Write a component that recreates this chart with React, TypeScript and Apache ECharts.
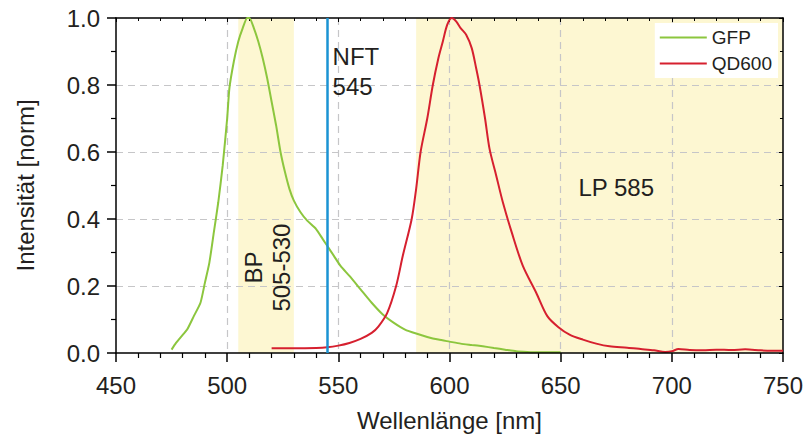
import React, { useEffect, useRef } from "react";
import * as echarts from "echarts";

const gfpNm = [475, 477, 480, 482, 485, 488, 490, 492, 494, 496, 498, 500, 501, 503, 505, 507, 509, 510, 512, 514, 516, 518, 520, 522, 524, 526, 528, 530, 533, 536, 540, 543, 545, 548, 551, 555, 560, 565, 570, 575, 580, 585, 590, 595, 600, 605, 610, 615, 620, 625, 630, 635, 640, 650];
const gfpIntensity = [0.01, 0.03, 0.054, 0.07, 0.11, 0.15, 0.21, 0.27, 0.36, 0.45, 0.56, 0.7, 0.79, 0.87, 0.93, 0.97, 1.0, 1.0, 0.97, 0.93, 0.88, 0.82, 0.75, 0.68, 0.6, 0.54, 0.49, 0.455, 0.42, 0.395, 0.37, 0.34, 0.32, 0.29, 0.26, 0.23, 0.19, 0.15, 0.115, 0.09, 0.07, 0.058, 0.048, 0.04, 0.034, 0.028, 0.024, 0.02, 0.015, 0.01, 0.005, 0.003, 0.002, 0.002];

const qdNm = [520, 530, 540, 545, 550, 555, 560, 565, 568, 572, 576, 579, 583, 585, 587, 590, 592.5, 595, 597, 599, 601, 603, 605, 607.5, 610, 612, 613.5, 616, 618, 621, 624, 628, 633, 639, 644, 649, 654, 660, 666, 672, 680, 686, 692, 697, 700, 703, 708, 714, 720, 727, 733, 740, 745, 750];
const qdIntensity = [0.014, 0.014, 0.015, 0.017, 0.022, 0.03, 0.042, 0.06, 0.079, 0.12, 0.2, 0.29, 0.4, 0.49, 0.6, 0.7, 0.8, 0.88, 0.93, 0.98, 1.0, 0.99, 0.97, 0.95, 0.91, 0.85, 0.8, 0.7, 0.61, 0.53, 0.45, 0.36, 0.26, 0.18, 0.11, 0.077, 0.055, 0.04, 0.028, 0.02, 0.016, 0.012, 0.008, 0.003, 0.005, 0.012, 0.009, 0.008, 0.01, 0.009, 0.011, 0.008, 0.007, 0.007];

const bandStart = [505, 585];
const bandEnd = [530, 750];
const nftLine = 545;

const xTicks = { min: 450, max: 750, interval: 50 };
const yTicks = { min: 0, max: 1, interval: 0.2 };

const FONT = '"Liberation Sans", Arial, sans-serif';
const TXT = "#231f20";
const GREEN = "#8cc63e";
const RED = "#d6202f";
const BLUE = "#1b93d3";
const BAND = "#fdf7d2";
const GRIDC = "#c6c6c8";

export default function App() {
  const ref = useRef<HTMLDivElement>(null);
  useEffect(() => {
    document.body.style.margin = "0";
    if (!ref.current) return;
    const chart = echarts.init(ref.current, null, { renderer: "svg" });
    const gfp = gfpNm.map((x, i) => [x, gfpIntensity[i]]);
    const qd = qdNm.map((x, i) => [x, qdIntensity[i]]);
    const bands = bandStart.map((s, i) => [{ xAxis: s }, { xAxis: bandEnd[i] }]);

    const mainAxisCommon = {
      type: "value" as const,
      axisLine: { show: true, onZero: false, lineStyle: { color: "#000", width: 1.5 } },
      axisTick: { show: true, inside: false, length: 9, lineStyle: { color: "#000", width: 1.5 } },
      splitLine: { show: false },
      z: 4,
    };
    const frameAxisCommon = {
      type: "value" as const,
      axisLine: { show: true, onZero: false, lineStyle: { color: "#000", width: 1.5 } },
      axisTick: { show: true, inside: true, length: 4, lineStyle: { color: "#000", width: 1 } },
      axisLabel: { show: false },
      splitLine: { show: true, showMinLine: false, showMaxLine: false, lineStyle: { color: GRIDC, type: [7, 5], width: 1.2 } },
      z: 2,
    };

    chart.setOption({
      animation: false,
      textStyle: { fontFamily: FONT },
      grid: { left: 116, right: 22, top: 18, bottom: 84 },
      legend: {
        orient: "vertical",
        right: 28,
        top: 23,
        backgroundColor: "#ffffff",
        padding: [5, 6, 5, 5],
        itemGap: 7,
        itemWidth: 47,
        itemHeight: 2,
        icon: "rect",
        textStyle: { fontSize: 19, color: TXT, fontFamily: FONT },
        data: ["GFP", "QD600"],
        z: 6,
      },
      xAxis: [
        {
          ...mainAxisCommon,
          position: "bottom",
          min: xTicks.min,
          max: xTicks.max,
          interval: xTicks.interval,
          minorTick: { show: true, splitNumber: 5, length: 5, lineStyle: { color: "#000", width: 1.2 } },
          axisLabel: { fontSize: 24, color: TXT, margin: 20, fontFamily: FONT },
          name: "Wellenlänge [nm]",
          nameLocation: "middle",
          nameGap: 55,
          nameTextStyle: { fontSize: 24, color: TXT, fontFamily: FONT },
        },
        {
          ...frameAxisCommon,
          position: "top",
          min: xTicks.min,
          max: xTicks.max,
          interval: xTicks.interval,
          minorTick: { show: true, splitNumber: 5, length: 3, lineStyle: { color: "#000", width: 1 } },
        },
      ],
      yAxis: [
        {
          ...mainAxisCommon,
          position: "left",
          min: yTicks.min,
          max: yTicks.max,
          interval: yTicks.interval,
          minorTick: { show: true, splitNumber: 2, length: 5, lineStyle: { color: "#000", width: 1.2 } },
          axisLabel: { fontSize: 24, color: TXT, margin: 16, fontFamily: FONT, formatter: (v: number) => v.toFixed(1) },
          name: "Intensität [norm]",
          nameLocation: "middle",
          nameGap: 79,
          nameTextStyle: { fontSize: 24, color: TXT, fontFamily: FONT },
        },
        {
          ...frameAxisCommon,
          position: "right",
          min: yTicks.min,
          max: yTicks.max,
          interval: yTicks.interval,
          minorTick: { show: true, splitNumber: 2, length: 3, lineStyle: { color: "#000", width: 1 } },
        },
      ],
      series: [
        {
          name: "bands",
          type: "line",
          data: [],
          z: 1,
          silent: true,
          markArea: {
            silent: true,
            itemStyle: { color: BAND },
            data: bands,
          },
        },
        {
          name: "GFP",
          type: "line",
          data: gfp,
          symbol: "none",
          smooth: 0.2,
          lineStyle: { color: GREEN, width: 2 },
          itemStyle: { color: GREEN },
          z: 3,
        },
        {
          name: "QD600",
          type: "line",
          data: qd,
          symbol: "none",
          smooth: 0.3,
          lineStyle: { color: RED, width: 2 },
          itemStyle: { color: RED },
          z: 3,
          markLine: {
            silent: true,
            symbol: "none",
            label: { show: false },
            lineStyle: { color: BLUE, width: 2.5, type: "solid" },
            data: [{ xAxis: nftLine }],
          },
        },
      ],
    });

    const p = (x: number, y: number) => chart.convertToPixel({ xAxisIndex: 0, yAxisIndex: 0 }, [x, y]);
    const nft = p(547.4, 0.84);
    const lp = p(675, 0.493);
    const bp = p(518.2, 0.255);
    chart.setOption({
      graphic: [
        {
          type: "text",
          x: nft[0],
          y: nft[1],
          z: 10,
          style: { text: "NFT\n545", font: `24px ${FONT}`, fill: TXT, textAlign: "left", textVerticalAlign: "middle", lineHeight: 30 },
        },
        {
          type: "text",
          x: lp[0],
          y: lp[1],
          z: 10,
          style: { text: "LP 585", font: `24px ${FONT}`, fill: TXT, textAlign: "center", textVerticalAlign: "middle" },
        },
        {
          type: "text",
          x: bp[0],
          y: bp[1],
          rotation: Math.PI / 2,
          z: 10,
          style: { text: "BP\n505-530", font: `24px ${FONT}`, fill: TXT, textAlign: "center", textVerticalAlign: "middle", lineHeight: 28 },
        },
      ],
    });
    return () => chart.dispose();
  }, []);
  return <div ref={ref} style={{ width: 806, height: 437 }} />;
}
